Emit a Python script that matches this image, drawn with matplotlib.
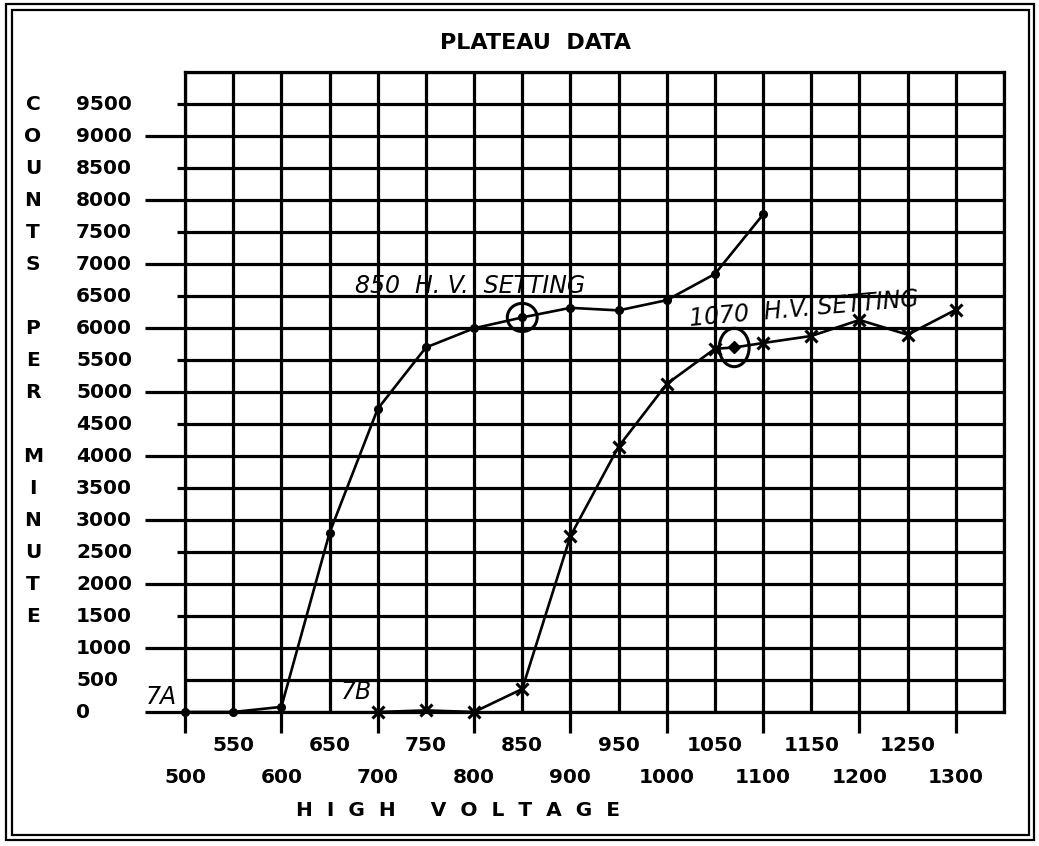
import matplotlib
matplotlib.use("Agg")
import matplotlib.pyplot as plt
from matplotlib import transforms
from matplotlib.patches import Ellipse, Rectangle

# ---- plateau measurements -------------------------------------------------
hv_7a = [500, 550, 600, 650, 700, 750, 800, 850, 900, 950, 1000, 1050, 1100]
cpm_7a = [0, 0, 80, 2800, 4740, 5700, 6000, 6170, 6320, 6280, 6440, 6850, 7780]

hv_7b = [700, 750, 800, 850, 900, 950, 1000, 1050, 1070, 1100, 1150, 1200, 1250, 1300]
cpm_7b = [0, 25, 0, 360, 2750, 4150, 5130, 5680, 5700, 5770, 5880, 6130, 5900, 6290]

setting_7a = 850
setting_7b = 1070

# ---- axis labelling ---------------------------------------------------------
x_labels_upper = [550, 650, 750, 850, 950, 1050, 1150, 1250]
x_labels_lower = [500, 600, 700, 800, 900, 1000, 1100, 1200, 1300]
y_labels = list(range(0, 9501, 500))
y_letters = ["C", "O", "U", "N", "T", "S", "", "P", "E", "R", "",
             "M", "I", "N", "U", "T", "E"]
x_grid = list(range(500, 1351, 50))
y_grid = list(range(0, 10001, 500))

W, H = 1039, 846
fig = plt.figure(figsize=(W / 100, H / 100), dpi=100)
fig.patch.set_facecolor("white")


def fx(px):
    return px / W


def fy(py):
    return 1 - py / H


ax = fig.add_axes([fx(185), fy(712), (1004 - 185) / W, (712 - 72.5) / H])
ax.set_xlim(500, 1350)
ax.set_ylim(0, 10000)

LW = 2.3
for v in x_grid:
    ax.axvline(v, color="black", lw=LW, zorder=1)
for v in y_grid:
    ax.axhline(v, color="black", lw=LW, zorder=1)
for s in ax.spines.values():
    s.set_linewidth(LW)

# ticks only extend outward; labels are placed by hand below
ax.set_xticks(x_labels_lower)
ax.tick_params(axis="x", which="major", length=15, width=LW, direction="out",
               labelbottom=False)
ax.set_yticks([v for v in y_labels if v % 1000 == 0])
ax.set_yticks([v for v in y_labels if v % 1000 == 500 and v > 500], minor=True)
ax.tick_params(axis="y", which="major", length=29, width=LW, direction="out",
               labelleft=False)
ax.tick_params(axis="y", which="minor", length=6, width=LW, direction="out")

label_font = dict(family="DejaVu Sans", weight="bold", size=14.5, color="black")

xtf = transforms.blended_transform_factory(ax.transData, fig.transFigure)
for v in x_labels_upper:
    ax.text(v, fy(745), str(v), transform=xtf, ha="center", va="center",
            **label_font)
for v in x_labels_lower:
    ax.text(v, fy(777), str(v), transform=xtf, ha="center", va="center",
            **label_font)

ytf = transforms.blended_transform_factory(fig.transFigure, ax.transData)
for v in y_labels:
    ax.text(fx(76), v, str(v), transform=ytf, ha="left", va="center",
            **label_font)
for ch, v in zip(y_letters, y_labels[::-1]):
    if ch:
        ax.text(fx(33), v, ch, transform=ytf, ha="center", va="center",
                **label_font)

fig.text(fx(535), fy(43), "PLATEAU  DATA", ha="center", va="center",
         family="DejaVu Sans", weight="bold", size=16, color="black")
fig.text(fx(458), fy(810),
         "H  I  G  H     V  O  L  T  A  G  E", ha="center", va="center",
         **label_font)

# ---- plateau curves ---------------------------------------------------------
ax.plot(hv_7a, cpm_7a, color="black", lw=1.9, marker="o", ms=5.5,
        zorder=4, clip_on=False)

ax.plot(hv_7b, cpm_7b, color="black", lw=1.9, zorder=4, clip_on=False)
xs = [h for h in hv_7b if h != setting_7b]
ys = [c for h, c in zip(hv_7b, cpm_7b) if h != setting_7b]
ax.plot(xs, ys, ls="none", marker="x", ms=8, mew=2.2, color="black",
        zorder=5, clip_on=False)
sel_b = cpm_7b[hv_7b.index(setting_7b)]
ax.plot([setting_7b], [sel_b], ls="none", marker="D", ms=6, color="black",
        zorder=5)

# chosen operating points
sel_a = cpm_7a[hv_7a.index(setting_7a)]
ax.add_patch(Ellipse((setting_7a, sel_a), 31, 440, fill=False, lw=2.2,
                     ec="black", zorder=6))
ax.add_patch(Ellipse((setting_7b, sel_b), 31, 600, fill=False, lw=2.2,
                     ec="black", zorder=6))

hand = dict(family="DejaVu Sans", style="italic", size=17, color="black")
fig.text(fx(355), fy(293), "850  H. V.  SETTING", ha="left", va="baseline",
         **hand)
fig.text(fx(690), fy(326), "1070  H.V. SETTING", ha="left", va="baseline",
         rotation=5, rotation_mode="anchor", **hand)
fig.text(fx(161), fy(697), "7A", ha="center", va="center", **hand)
fig.text(fx(356), fy(692), "7B", ha="center", va="center", **hand)

# double page border
for (x0, y0, x1, y1) in [(6, 4, 1034, 840), (12, 10, 1029, 835)]:
    fig.patches.append(Rectangle((fx(x0), fy(y1)), (x1 - x0) / W,
                                 (y1 - y0) / H, transform=fig.transFigure,
                                 fill=False, lw=1.6, ec="black"))

fig.savefig("out.png", dpi=100, facecolor="white")
